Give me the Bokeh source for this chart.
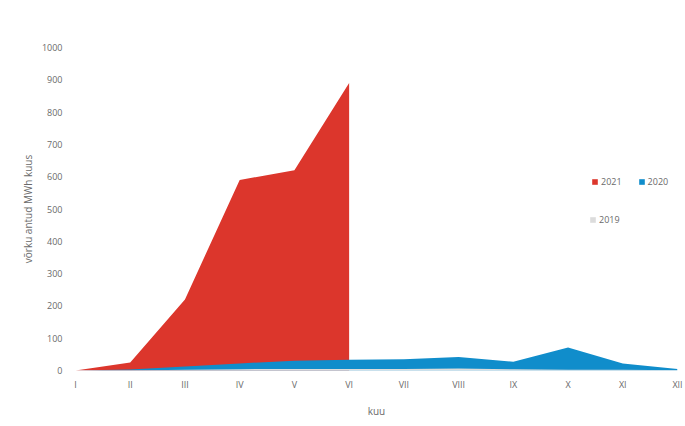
from bokeh.plotting import figure
from bokeh.models import FixedTicker, Legend, LegendItem, Range1d
from bokeh.embed import file_html
from bokeh.resources import INLINE

months = ["I", "II", "III", "IV", "V", "VI", "VII", "VIII", "IX", "X", "XI", "XII"]
v2021 = [0, 25, 220, 590, 620, 890]
v2020 = [0, 3, 12, 22, 30, 33, 35, 42, 27, 71, 22, 5]
v2019 = [0, 0, 2, 4, 5, 5, 5, 6, 4, 2, 2, 1]
y_ticks = [0, 100, 200, 300, 400, 500, 600, 700, 800, 900, 1000]

RED = "#dc362c"
BLUE = "#108dcb"
GREY = "#dcdcdc"
TXT = "#6a6a6a"
FONT = "Open Sans"

xs = list(range(len(months)))

p = figure(width=683, height=421, output_backend="svg", toolbar_location=None,
           x_range=Range1d(0, len(months) - 1), y_range=Range1d(0, 1000),
           min_border_left=75, min_border_right=6, min_border_top=47, min_border_bottom=51)
p.background_fill_color = "white"
p.border_fill_color = "white"
p.outline_line_color = None
p.xgrid.visible = False
p.ygrid.visible = False

r21 = p.varea(x=xs[:len(v2021)], y1=[0] * len(v2021), y2=v2021, fill_color=RED)
r20 = p.varea(x=xs, y1=[0] * len(xs), y2=v2020, fill_color=BLUE)
r19 = p.varea(x=xs, y1=[0] * len(xs), y2=v2019, fill_color=GREY)

p.xaxis.ticker = FixedTicker(ticks=xs)
p.xaxis.major_label_overrides = {i: m for i, m in enumerate(months)}
p.yaxis.ticker = FixedTicker(ticks=y_ticks)

for ax in (p.xaxis[0], p.yaxis[0]):
    ax.axis_line_color = None
    ax.major_tick_line_color = None
    ax.minor_tick_line_color = None
    ax.major_tick_out = 0
    ax.major_tick_in = 0
    ax.minor_tick_out = 0
    ax.minor_tick_in = 0
    ax.major_label_text_font = FONT
    ax.major_label_text_font_size = "9px"
    ax.major_label_text_color = TXT
    ax.axis_label_text_font = FONT
    ax.axis_label_text_font_size = "10px"
    ax.axis_label_text_color = TXT
    ax.axis_label_text_font_style = "normal"

p.xaxis.axis_label = "kuu"
p.xaxis.major_label_standoff = 7
p.xaxis.axis_label_standoff = 10
p.yaxis.axis_label = "võrku antud MWh kuus"
p.yaxis.major_label_standoff = 13
p.yaxis.axis_label_standoff = 4

leg1 = Legend(items=[LegendItem(label="2021", renderers=[r21]),
                     LegendItem(label="2020", renderers=[r20])],
              orientation="horizontal", location=(516, 182))
leg2 = Legend(items=[LegendItem(label="2019", renderers=[r19])],
              orientation="horizontal", location=(514, 144))
for lg in (leg1, leg2):
    lg.border_line_color = None
    lg.background_fill_alpha = 0
    lg.padding = 0
    lg.margin = 0
    lg.spacing = 16
    lg.glyph_width = 7
    lg.glyph_height = 7
    lg.label_standoff = 3
    lg.label_height = 10
    lg.label_text_font = FONT
    lg.label_text_font_size = "9px"
    lg.label_text_color = TXT
    lg.label_text_baseline = "middle"
    p.add_layout(lg, "center")

open("out.html", "w").write(file_html(p, INLINE))
